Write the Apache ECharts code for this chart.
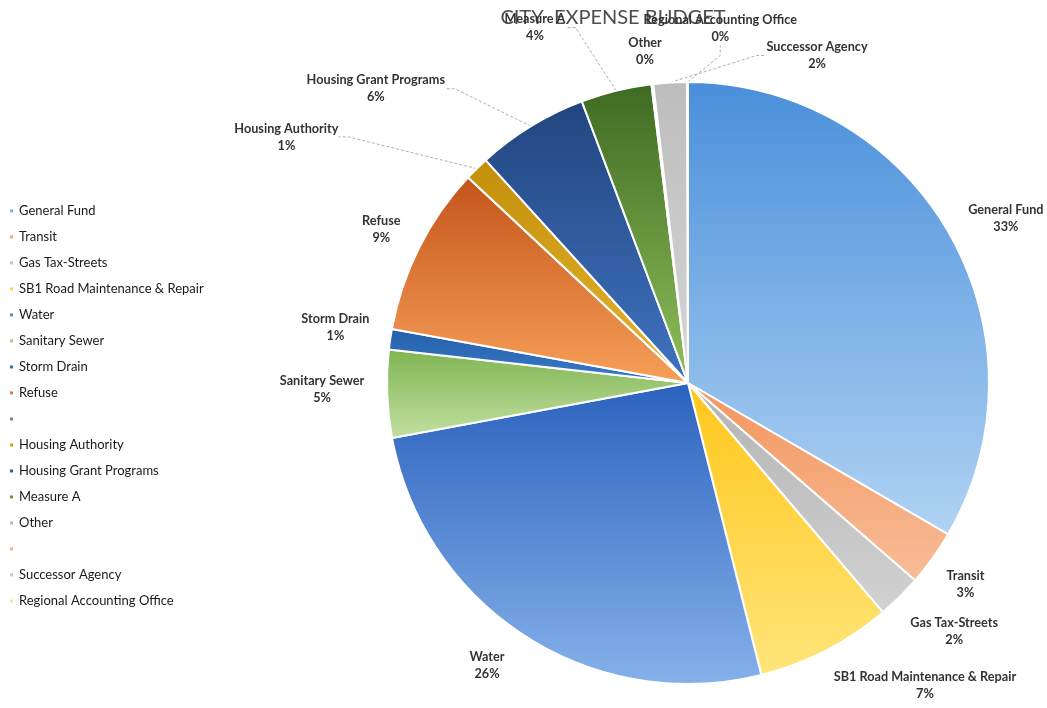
<!DOCTYPE html>
<html>
<head>
<meta charset="utf-8">
<script src="https://cdn.jsdelivr.net/npm/echarts@6/dist/echarts.min.js"></script>
<style>html,body{margin:0;padding:0;background:#fff}#c{width:1047px;height:708px}</style>
</head>
<body>
<div id="c"></div>
<script>
// ---- data ----
const titleText = 'CITY  EXPENSE BUDGET';
const categories = ['General Fund','Transit','Gas Tax-Streets','SB1 Road Maintenance & Repair','Water','Sanitary Sewer','Storm Drain','Refuse',' ','Housing Authority','Housing Grant Programs','Measure A','Other','  ','Successor Agency','Regional Accounting Office'];
const values = [33.4, 3.0, 2.4, 7.3, 26.0, 4.7, 1.1, 9.1, 0, 1.3, 6.0, 3.8, 0.1, 0, 1.8, 0.04];

// ---- styling / layout (not data) ----
const colorPairs = [
  ['#4a8fdb','#b0d3f3'], // General Fund
  ['#f3955e','#f8bd98'], // Transit
  ['#b3b3b3','#d2d2d2'], // Gas Tax
  ['#ffc619','#ffe57a'], // SB1
  ['#2b62bd','#86b1ea'], // Water
  ['#7fb552','#c3e0a2'], // Sanitary Sewer
  ['#2560a8','#3a7bcb'], // Storm Drain
  ['#c4541a','#f7a059'], // Refuse
  ['#7f7f7f','#7f7f7f'], // blank
  ['#c28f0a','#e8b530'], // Housing Authority
  ['#22457f','#3f73c0'], // Housing Grant
  ['#3e6a22','#8fc05a'], // Measure A
  ['#a5a5a5','#d0d0d0'], // Other
  ['#f4b183','#f4b183'], // blank
  ['#bdbdbd','#d6d6d6'], // Successor
  ['#e3ecb0','#e3ecb0']  // Regional
];
// label placement: [angle in degrees clockwise from 12 o'clock, distance from centre]
const labelPlace = {
  'General Fund':[62.6,358], 'Transit':[126,343], 'Gas Tax-Streets':[133,364],
  'SB1 Road Maintenance & Repair':[141.9,384], 'Water':[215.4,347], 'Sanitary Sewer':[269,366],
  'Storm Drain':[279,357], 'Refuse':[296.6,343], 'Housing Authority':[301.5,471],
  'Housing Grant Programs':[313.3,429], 'Measure A':[336.7,387], 'Other':[352.6,334],
  'Regional Accounting Office':[5.2,356], 'Successor Agency':[21.5,352]
};
const withLine = ['Housing Authority','Housing Grant Programs','Measure A','Regional Accounting Office','Successor Agency'];
const CX = 688, CY = 383, R = 301;

const total = values.reduce((a,b)=>a+b,0);
const fontFamily = 'Lato, "Open Sans", sans-serif';

const data = categories.map((name,i)=>{
  const blank = name.trim() === '';
  return {
    name: name,
    value: values[i],
    itemStyle: {
      color: new echarts.graphic.LinearGradient(0,0,0,1,[
        {offset:0,color:colorPairs[i][0]},{offset:1,color:colorPairs[i][1]}
      ])
    },
    label: {show: !blank},
    labelLine: {show: withLine.indexOf(name) >= 0}
  };
});

const chart = echarts.init(document.getElementById('c'), null, {renderer:'canvas'});
chart.setOption({
  backgroundColor:'#ffffff',
  animation:false,
  title:{
    text:titleText, left:608, top:3, textAlign:'center', z:1,
    textStyle:{fontFamily:fontFamily, fontWeight:'normal', fontSize:20, color:'#4d4d4d'}
  },
  legend:{
    orient:'vertical', left:3, top:199, itemGap:12, itemWidth:5, itemHeight:5, icon:'rect',
    selectedMode:false,
    textStyle:{fontFamily:fontFamily, fontSize:13, color:'#1a1a1a', lineHeight:14}
  },
  series:[{
    type:'pie',
    center:[CX,CY],
    radius:[0,R],
    startAngle:90,
    clockwise:true,
    avoidLabelOverlap:false,
    itemStyle:{borderColor:'#ffffff', borderWidth:2},
    label:{
      show:true, position:'outside',
      formatter:(p)=> p.name + '\n' + Math.round(p.value/total*100) + '%',
      fontFamily:fontFamily, fontSize:12.7, fontWeight:'bold', color:'#333', lineHeight:17, align:'center'
    },
    labelLine:{show:false, length:10, length2:10, lineStyle:{color:'#b0b0b0', width:1, type:[3,2]}},
    labelLayout:function(params){
      const name = categories[params.dataIndex];
      const pl = labelPlace[name];
      if(!pl) return {};
      const a = pl[0]*Math.PI/180;
      const x = CX + pl[1]*Math.sin(a);
      const y = CY - pl[1]*Math.cos(a);
      return {x:x, y:y, align:'center', verticalAlign:'middle'};
    },
    emphasis:{disabled:true},
    data:data
  }]
});
</script>
</body>
</html>
